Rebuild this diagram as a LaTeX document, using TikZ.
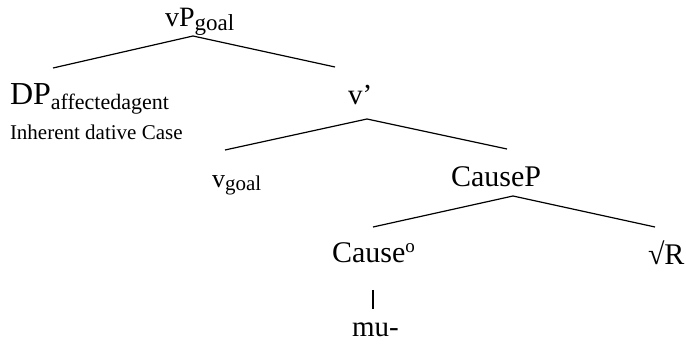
\documentclass[tikz,border=0pt]{standalone}
\usepackage{fontspec}
\setmainfont{Liberation Serif}
\newcommand\fsz[1]{\fontsize{#1}{#1}\selectfont}
\begin{document}
\begin{tikzpicture}[x=1pt,y=-1pt,
  lbl/.style={anchor=base west, inner sep=0pt, outer sep=0pt},
  branch/.style={line width=1.2pt}]
\useasboundingbox (0,0) rectangle (686,344);
\node[lbl] (vP) at (165,27) {\fsz{28}vP\raisebox{-4pt}{\fsz{23}goal}};
\node[lbl] (DP) at (10,105) {\fsz{32}DP\raisebox{-5pt}{\fsz{22}affectedagent}};
\node[lbl] (case) at (10,140) {\fsz{21}Inherent dative Case};
\node[lbl] (vbar) at (348,105) {\fsz{29}v'};
\node[lbl] (vgoal) at (212,188) {\fsz{26}v\raisebox{-3pt}{\fsz{21}goal}};
\node[lbl] (CauseP) at (451,187) {\fsz{30}CauseP};
\node[lbl] (Cause) at (332,263) {\fsz{30}Cause\raisebox{10pt}{\fsz{19}o}};
\node[lbl] (R) at (648,265) {\fsz{30}√R};
\node[lbl] (mu) at (352,337) {\fsz{29}mu-};
\coordinate (vP-b) at (193,36);
\coordinate (DP-t) at (53,68);
\coordinate (vbar-t) at (335,67);
\coordinate (vbar-b) at (367,119);
\coordinate (vgoal-t) at (225,150);
\coordinate (CauseP-t) at (507,149);
\coordinate (CauseP-b) at (513,196);
\coordinate (Cause-t) at (373,227);
\coordinate (R-t) at (655,227);
\coordinate (Cause-b) at (373,290);
\coordinate (mu-t) at (373,309);
\draw[branch] (DP-t) -- (vP-b) -- (vbar-t);
\draw[branch] (vgoal-t) -- (vbar-b) -- (CauseP-t);
\draw[branch] (Cause-t) -- (CauseP-b) -- (R-t);
\draw[line width=1.2pt] (Cause-b) -- (mu-t);
\end{tikzpicture}
\end{document}
